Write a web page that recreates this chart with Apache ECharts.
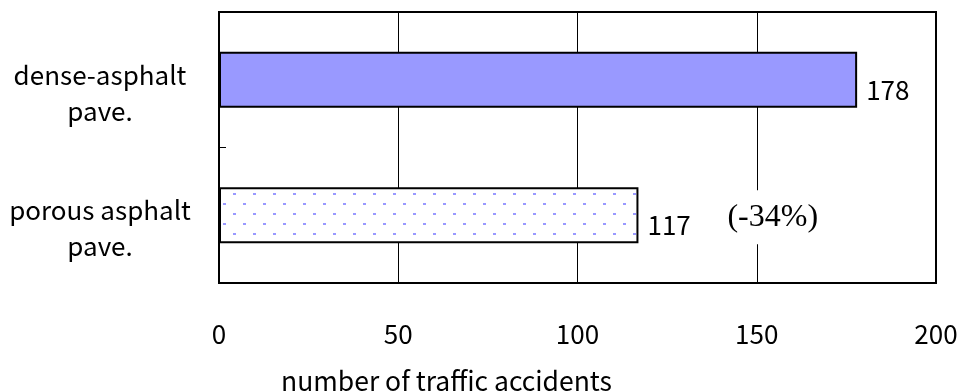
<!DOCTYPE html>
<html>
<head>
<meta charset="utf-8">
<script src="https://cdn.jsdelivr.net/npm/echarts@6/dist/echarts.min.js"></script>
<style>
  html, body { margin: 0; padding: 0; background: #fff; }
  #chart { width: 957px; height: 391px; }
</style>
</head>
<body>
<div id="chart"></div>
<script>
// Pavement types and accident counts
const categories = ['dense-asphalt\npave.', 'porous asphalt\npave.'];
const accidents = [178, 117];
const xTicks = [0, 50, 100, 150, 200];
const axisTitle = 'number of traffic accidents';

// reduction of porous vs dense, shown as a note next to the porous bar
const change = Math.round((accidents[1] - accidents[0]) / accidents[0] * 100);
const noteText = '(' + change + '%)';

const FONT = '"Noto Sans CJK JP", "Noto Sans", sans-serif';

// dotted fill for the porous bar
function dotPattern() {
  const c = document.createElement('canvas');
  c.width = 20; c.height = 20;
  const g = c.getContext('2d');
  g.fillStyle = '#ffffff';
  g.fillRect(0, 0, 20, 20);
  g.fillStyle = '#9999ff';
  g.fillRect(3, 3, 3, 2);
  g.fillRect(13, 13, 3, 2);
  return c;
}

// category label: a short spacer line on top pushes the two text lines down a bit
function categoryLabel(text) {
  return '{gap| }\n' + text.split('\n').map(s => '{txt|' + s + '}').join('\n');
}

const chart = echarts.init(document.getElementById('chart'), null, { renderer: 'canvas' });

chart.setOption({
  animation: false,
  backgroundColor: '#fff',
  grid: {
    left: 219, right: 21, top: 12, bottom: 108,
    outerBoundsMode: 'none',
    containLabel: false,
    show: true, borderColor: '#000', borderWidth: 2
  },
  xAxis: {
    type: 'value',
    min: xTicks[0],
    max: xTicks[xTicks.length - 1],
    interval: xTicks[1] - xTicks[0],
    axisLine: { show: true, lineStyle: { color: '#000', width: 2 } },
    axisTick: { show: false },
    splitLine: { show: true, lineStyle: { color: '#000', width: 1 } },
    axisLabel: {
      margin: 38,
      color: '#000',
      fontFamily: FONT,
      fontSize: 26
    },
    name: axisTitle,
    nameLocation: 'middle',
    nameGap: 85,
    nameTextStyle: {
      color: '#000',
      fontFamily: FONT,
      fontSize: 26.5,
      padding: [0, 262, 0, 0]
    }
  },
  yAxis: {
    type: 'category',
    data: categories,
    inverse: true,
    axisLine: { show: true, lineStyle: { color: '#000', width: 2 } },
    axisTick: { show: true, inside: true, length: 7, lineStyle: { color: '#000', width: 1 } },
    splitLine: { show: false },
    axisLabel: {
      interval: 0,
      hideOverlap: false,
      margin: 119,
      align: 'center',
      formatter: categoryLabel,
      rich: {
        gap: { fontSize: 4, lineHeight: 26 },
        txt: { color: '#000', fontFamily: FONT, fontSize: 26, lineHeight: 36 }
      }
    }
  },
  series: [{
    type: 'bar',
    barWidth: 56,
    data: [
      { value: accidents[0], itemStyle: { color: '#9999ff' } },
      { value: accidents[1], itemStyle: { color: { image: dotPattern(), repeat: 'repeat' } } }
    ],
    itemStyle: { borderColor: '#000', borderWidth: 2 },
    label: {
      show: true,
      position: 'right',
      distance: 9,
      offset: [0, 10],
      color: '#000',
      fontFamily: FONT,
      fontSize: 26
    },
    markPoint: {
      symbol: 'rect',
      symbolSize: 0,
      data: [{
        coord: [150, 1],
        label: {
          show: true,
          formatter: noteText,
          position: 'inside',
          offset: [16, 2],
          color: '#000',
          fontFamily: '"Liberation Serif", "DejaVu Serif", serif',
          fontSize: 32,
          backgroundColor: '#fff',
          padding: [11, 3]
        }
      }]
    }
  }]
});
</script>
</body>
</html>
